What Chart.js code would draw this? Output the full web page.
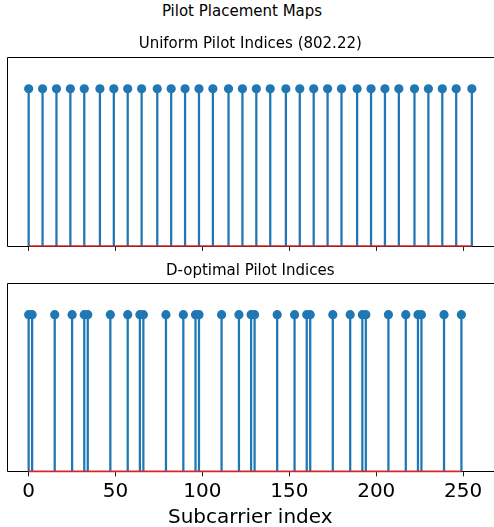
<!DOCTYPE html>
<html>
<head>
<meta charset="utf-8">
<script src="https://cdn.jsdelivr.net/npm/chart.js@4/dist/chart.umd.min.js"></script>
<style>
  html, body { margin: 0; padding: 0; background: #fff; overflow: hidden; }
  #wrap { position: relative; width: 494px; height: 527px; }
  canvas { position: absolute; left: 0; display: block; }
  #suptitle {
    position: absolute; top: 2px; left: 142px; width: 200px;
    text-align: center; font: 15px 'DejaVu Sans'; line-height: 18px; color: #000;
  }
</style>
</head>
<body>
<div id="wrap">
  <div id="suptitle">Pilot Placement Maps</div>
  <canvas id="topChart" width="494" height="251" style="top:0"></canvas>
  <canvas id="bottomChart" width="494" height="276" style="top:251px"></canvas>
</div>
<script>
// pilot positions
const uniformIdx = [0, 8, 16, 24, 32, 41, 49, 57, 65, 74, 82, 90, 98, 106, 115, 123,
  131, 139, 148, 156, 164, 172, 180, 189, 197, 205, 213, 222, 230, 238, 246, 255];
const uniformVal = [1, 1, 1, 1, 1, 1, 1, 1, 1, 1, 1, 1, 1, 1, 1, 1,
  1, 1, 1, 1, 1, 1, 1, 1, 1, 1, 1, 1, 1, 1, 1, 1];
const doptIdx = [0, 2, 15, 25, 32, 34, 47, 57, 64, 66, 79, 89, 96, 98, 111, 121,
  128, 130, 143, 153, 160, 162, 175, 185, 192, 194, 207, 217, 224, 226, 239, 249];
const doptVal = [1, 1, 1, 1, 1, 1, 1, 1, 1, 1, 1, 1, 1, 1, 1, 1,
  1, 1, 1, 1, 1, 1, 1, 1, 1, 1, 1, 1, 1, 1, 1, 1];
const xTicks = [0, 50, 100, 150, 200, 250];
const xMin = -12.75, xMax = 267.75;
const yMin = 0, yMax = 1.2;

const blue = '#1f77b4';
const red = '#d62728';
const font = 'DejaVu Sans';

// frame round the plot area (left, top, bottom; right edge is off the page)
const framePlugin = {
  id: 'frame',
  beforeDatasetsDraw(chart) {
    const { ctx, chartArea: a } = chart;
    ctx.save();
    ctx.strokeStyle = '#000';
    ctx.lineWidth = 1;
    ctx.beginPath();
    ctx.moveTo(a.right + 2, Math.round(a.top) + 0.5);
    ctx.lineTo(Math.round(a.left) + 0.5, Math.round(a.top) + 0.5);
    ctx.lineTo(Math.round(a.left) + 0.5, Math.round(a.bottom) + 0.5);
    ctx.lineTo(a.right + 2, Math.round(a.bottom) + 0.5);
    ctx.stroke();
    ctx.restore();
  }
};

function stemDatasets(idx, vals) {
  const pts = idx.map((x, i) => ({ x: x, y: vals[i] }));
  return [
    {
      type: 'line',
      data: [{ x: Math.min(...idx), y: 0 }, { x: Math.max(...idx), y: 0 }],
      borderColor: red,
      borderWidth: 1.6,
      pointRadius: 0,
      clip: false,
      order: 0
    },
    {
      type: 'scatter',
      data: pts,
      backgroundColor: blue,
      borderColor: blue,
      pointRadius: 4.6,
      pointBorderWidth: 0,
      order: 1
    },
    {
      type: 'bar',
      data: pts,
      backgroundColor: blue,
      barThickness: 1.6,
      grouped: false,
      order: 2
    }
  ];
}

function makeChart(canvasId, idx, vals, title, showLabels) {
  return new Chart(document.getElementById(canvasId), {
    type: 'bar',
    data: { datasets: stemDatasets(idx, vals) },
    options: {
      responsive: false,
      animation: false,
      events: [],
      layout: {
        autoPadding: false,
        padding: { left: 6.5, right: 0, top: 0, bottom: showLabels ? -2 : 0 }
      },
      plugins: {
        legend: { display: false },
        tooltip: { enabled: false },
        title: title
      },
      scales: {
        x: {
          type: 'linear',
          min: xMin,
          max: xMax,
          offset: false,
          afterBuildTicks: (axis) => { axis.ticks = xTicks.map(v => ({ value: v })); },
          grid: {
            offset: false,
            drawOnChartArea: false,
            drawTicks: true,
            tickLength: 5,
            color: '#222',
            lineWidth: 1
          },
          border: { display: false },
          ticks: {
            display: showLabels,
            padding: 3.3,
            color: '#000',
            maxRotation: 0,
            font: { family: font, size: 20 }
          },
          title: {
            display: showLabels,
            text: 'Subcarrier index',
            color: '#000',
            padding: { top: 0, bottom: 0 },
            font: { family: font, size: 20, lineHeight: 1.1 }
          }
        },
        y: {
          display: false,
          min: yMin,
          max: yMax
        }
      }
    },
    plugins: [framePlugin]
  });
}

makeChart('topChart', uniformIdx, uniformVal, {
  display: true,
  text: 'Uniform Pilot Indices (802.22)',
  color: '#000',
  font: { family: font, size: 15, weight: 'normal' },
  padding: { top: 35.5, bottom: 3.8 }
}, false);

makeChart('bottomChart', doptIdx, doptVal, {
  display: true,
  text: 'D-optimal Pilot Indices',
  color: '#000',
  font: { family: font, size: 15, weight: 'normal' },
  padding: { top: 11, bottom: 3.3 }
}, true);
</script>
</body>
</html>
